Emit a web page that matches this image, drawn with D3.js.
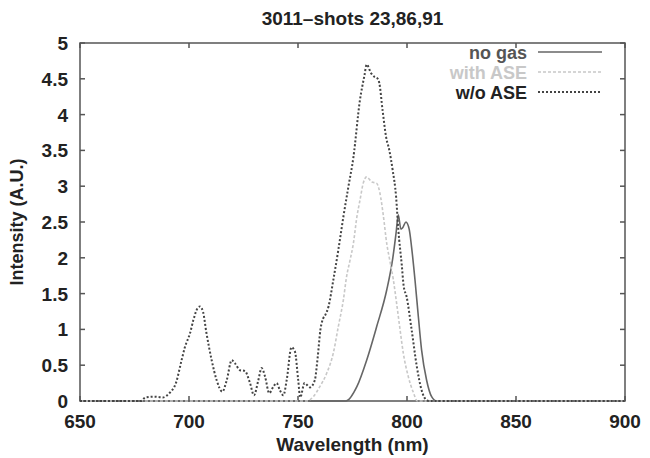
<!DOCTYPE html>
<html>
<head>
<meta charset="utf-8">
<script src="https://cdn.jsdelivr.net/npm/d3@7"></script>
<style>
  body { margin: 0; background: #fff; }
  text { font-family: "Liberation Sans", Arial, sans-serif; font-weight: bold; }
</style>
</head>
<body>
<div id="chart"></div>
<script>
// tick values
const xTicks = [650, 700, 750, 800, 850, 900];
const yTicks = [0, 0.5, 1, 1.5, 2, 2.5, 3, 3.5, 4, 4.5, 5];

// series names
const seriesNames = ["no gas", "with ASE", "w/o ASE"];

// no gas (solid)
const noGasWl = [650, 772, 777, 781.5, 786.1, 790.7, 793.5, 795, 796, 797.2, 798, 799.5, 801, 802.1, 803.7, 805.2, 806.7, 809, 811.3, 813.6, 900];
const noGasI  = [0, 0, 0.2, 0.57, 1.04, 1.55, 2.0, 2.35, 2.6, 2.4, 2.42, 2.5, 2.4, 2.15, 1.68, 1.18, 0.71, 0.29, 0.06, 0, 0];

// with ASE (light dashed)
const withAseWl = [650, 754, 757, 760, 763.2, 766.2, 768.5, 770.8, 772.3, 773.9, 775.4, 777, 778.4, 780, 781.5, 783.8, 786.1, 787.6, 789.1, 790.7, 792.2, 793.7, 795.3, 796.8, 798.3, 800.6, 802.9, 804.8, 900];
const withAseI  = [0, 0, 0.06, 0.2, 0.39, 0.67, 1.04, 1.41, 1.74, 1.97, 2.2, 2.57, 2.8, 3.05, 3.13, 3.06, 3.04, 2.9, 2.6, 2.2, 1.95, 1.7, 1.35, 1.0, 0.67, 0.34, 0.12, 0, 0];

// w/o ASE (dotted)
const woAseWl = [650, 678, 680, 684, 688, 691, 694, 696.6, 698, 700.5, 702, 704, 705, 706.4, 708, 710.4, 712.7, 715.3, 717.3, 719.6, 721, 723.4, 725.6, 728, 729.8, 731.8, 733.3, 734.9, 736.8, 738.7, 740.2, 741.7, 743.3, 744.8, 747, 748.6, 750.1, 751, 753, 755.5, 757.7, 759, 760.3, 761.5, 762.5, 764, 766.2, 768.5, 770.8, 773.1, 775.4, 778.4, 780.5, 781.5, 783.5, 785, 786.6, 787.3, 788.8, 790.4, 791.9, 793.4, 795, 796, 797.6, 798.5, 799.8, 802.1, 804.4, 806.7, 809, 810, 900];
const woAseI  = [0, 0, 0.05, 0.06, 0.05, 0.11, 0.25, 0.57, 0.74, 0.95, 1.13, 1.3, 1.32, 1.25, 0.95, 0.57, 0.29, 0.13, 0.29, 0.57, 0.53, 0.43, 0.42, 0.25, 0.08, 0.29, 0.46, 0.34, 0.11, 0.2, 0.25, 0.15, 0.08, 0.29, 0.75, 0.69, 0.29, 0.05, 0.25, 0.19, 0.29, 0.6, 1.0, 1.15, 1.2, 1.32, 1.69, 2.11, 2.57, 2.99, 3.4, 4.2, 4.55, 4.7, 4.58, 4.53, 4.5, 4.44, 4.06, 3.69, 3.5, 3.23, 2.85, 2.4, 1.9, 1.6, 1.46, 1.0, 0.5, 0.15, 0.01, 0, 0];

// set the dimensions and margins of the graph
const W = 650, H = 458;
const margin = { top: 43, right: 25, bottom: 57, left: 80 },
    width = W - margin.left - margin.right,
    height = H - margin.top - margin.bottom;

const svg = d3.select("#chart")
    .append("svg")
    .attr("width", W)
    .attr("height", H);

const g = svg.append("g")
    .attr("transform", `translate(${margin.left},${margin.top})`);

const x = d3.scaleLinear().domain([650, 900]).range([0, width]);
const y = d3.scaleLinear().domain([0, 5]).range([height, 0]);

const frameColor = "#555";
const tickLen = 5;
const fs = 19;

// ticks (gnuplot style, inside, mirrored)
xTicks.forEach(t => {
    g.append("line").attr("x1", x(t)).attr("x2", x(t)).attr("y1", height).attr("y2", height - tickLen)
        .attr("stroke", frameColor).attr("stroke-width", 1.5);
    g.append("line").attr("x1", x(t)).attr("x2", x(t)).attr("y1", 0).attr("y2", tickLen)
        .attr("stroke", frameColor).attr("stroke-width", 1.5);
    g.append("text").attr("x", x(t)).attr("y", height + 27)
        .attr("text-anchor", "middle").attr("font-size", fs).attr("fill", "#222").text(t);
});
yTicks.forEach(t => {
    g.append("line").attr("x1", 0).attr("x2", tickLen).attr("y1", y(t)).attr("y2", y(t))
        .attr("stroke", frameColor).attr("stroke-width", 1.5);
    g.append("line").attr("x1", width).attr("x2", width - tickLen).attr("y1", y(t)).attr("y2", y(t))
        .attr("stroke", frameColor).attr("stroke-width", 1.5);
    g.append("text").attr("x", -12).attr("y", y(t) + 7)
        .attr("text-anchor", "end").attr("font-size", fs).attr("fill", "#222").text(t);
});

// frame
g.append("rect").attr("x", 0).attr("y", 0).attr("width", width).attr("height", height)
    .attr("fill", "none").attr("stroke", frameColor).attr("stroke-width", 1.5);

// lines
const line = d3.line()
    .x(d => x(d[0]))
    .y(d => y(d[1]))
    .curve(d3.curveMonotoneX);

const series = [
    { name: seriesNames[0], wl: noGasWl, val: noGasI, color: "#666", dash: null, sw: 1.6, text: "#555" },
    { name: seriesNames[1], wl: withAseWl, val: withAseI, color: "#c8c8c8", dash: "3,2", sw: 1.6, text: "#c8c8c8" },
    { name: seriesNames[2], wl: woAseWl, val: woAseI, color: "#444", dash: "2,2", sw: 2, text: "#222" }
];

series.forEach((s, i) => {
    const pts = s.wl.map((w, k) => [w, s.val[k]]);
    g.append("path")
        .datum(pts)
        .attr("fill", "none")
        .attr("stroke", s.color)
        .attr("stroke-width", s.sw)
        .attr("stroke-dasharray", s.dash)
        .attr("d", line);

    // legend
    const ly = 9 + i * 20;
    g.append("text").attr("x", 447).attr("y", ly + 6.5)
        .attr("text-anchor", "end").attr("font-size", 18).attr("fill", s.text).text(s.name);
    g.append("line").attr("x1", 458).attr("x2", 522).attr("y1", ly).attr("y2", ly)
        .attr("stroke", s.color).attr("stroke-width", s.sw).attr("stroke-dasharray", s.dash);
});

// title
svg.append("text").attr("x", margin.left + width / 2).attr("y", 25)
    .attr("text-anchor", "middle").attr("font-size", fs).attr("fill", "#222").text("3011–shots 23,86,91");

// axis labels
svg.append("text").attr("x", margin.left + width / 2).attr("y", H - 7)
    .attr("text-anchor", "middle").attr("font-size", fs).attr("fill", "#222").text("Wavelength (nm)");
svg.append("text")
    .attr("transform", `translate(23,${margin.top + height / 2}) rotate(-90)`)
    .attr("text-anchor", "middle").attr("font-size", 18).attr("fill", "#222").text("Intensity (A.U.)");
</script>
</body>
</html>
